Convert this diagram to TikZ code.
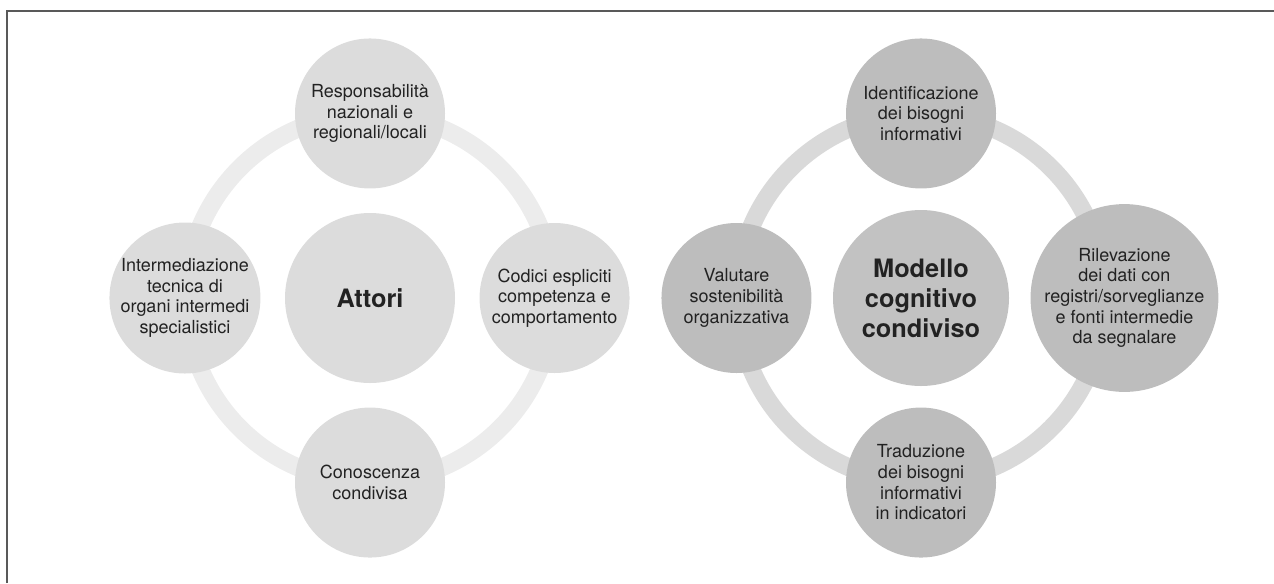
\documentclass[tikz,border=0pt]{standalone}
\usepackage{fontspec}
\setmainfont{TeX Gyre Heros}
\usetikzlibrary{positioning}
\definecolor{ringA}{HTML}{ECECEC}
\definecolor{circA}{HTML}{DCDCDC}
\definecolor{ringB}{HTML}{D9D9D9}
\definecolor{circB}{HTML}{BDBDBD}
\definecolor{midB}{HTML}{C2C2C2}
\definecolor{txt}{HTML}{222222}
\tikzstyle{ot} = [circle, minimum size=112.5pt, inner sep=0pt, align=center, text=txt, font=\fontsize{13.5}{15.5}\selectfont]
\tikzstyle{ct} = [circle, inner sep=0pt, align=center, text=txt, font=\fontsize{19}{22.5}\selectfont\bfseries]
\tikzstyle{rg} = [line width=13.5pt]

\begin{document}
\begin{tikzpicture}[x=0.75pt, y=-0.75pt]
	\useasboundingbox (0,0) rectangle (1274,583);
	\draw [line width=1.5pt, color=black!65] (7,583) -- (7,11) -- (1274,11);
	% Attori
	\node [ct, fill=circA, minimum size=127.5pt] (at) at (370,298) {Attori};
	\draw [rg, ringA] (at.center) circle (184);
	\begin{scope}[node distance=18pt]
	\node [ot, fill=circA, above = of at] (re) {Responsabilità\\nazionali e\\regionali/locali};
	\node [ot, fill=circA, right = of at] (cd) {Codici espliciti\\competenza e\\comportamento};
	\node [ot, fill=circA, below = of at] (cc) {Conoscenza\\condivisa};
	\node [ot, fill=circA, left = of at] (im) {Intermediazione\\tecnica di\\organi intermedi\\specialistici};
	\end{scope}
	% Modello
	\node [ct, fill=midB, minimum size=132pt] (mo) at (921,298) {Modello\\cognitivo\\condiviso};
	\draw [rg, ringB] (mo.center) circle (184);
	\begin{scope}[node distance=15.75pt]
	\node [ot, fill=circB, above = of mo] (id) {Identificazione\\dei bisogni\\informativi};
	\node [ot, fill=circB, right = of mo] (ri) {Rilevazione\\dei dati con\\registri/sorveglianze\\e fonti intermedie\\da segnalare};
	\node [ot, fill=circB, below = of mo] (tr) {Traduzione\\dei bisogni\\informativi\\in indicatori};
	\node [ot, fill=circB, left = of mo] (va) {Valutare\\sostenibilità\\organizzativa};
	\end{scope}
\end{tikzpicture}
\end{document}
